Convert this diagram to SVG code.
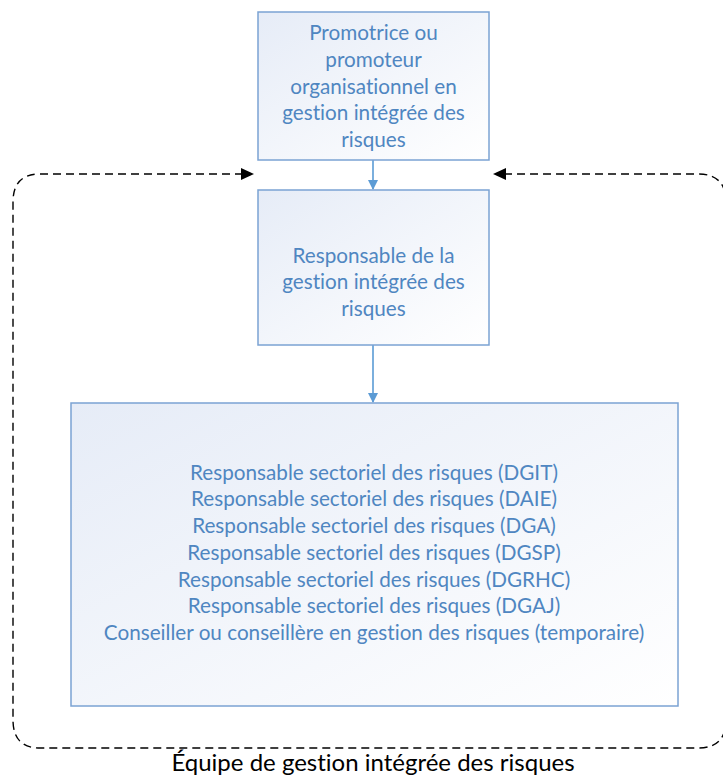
<svg xmlns="http://www.w3.org/2000/svg" width="723" height="777" viewBox="0 0 723 777">
<style>
.box{stroke:#7BA3D3;stroke-width:1.5;fill:url(#g)}
.t{font-family:Lato,"Liberation Sans",sans-serif;font-size:20.7px;fill:#4F86C1;text-anchor:middle;font-variant-ligatures:none}
.c{stroke:#5B9BD5;stroke-width:1.6;fill:none}
.d{stroke:#000;stroke-width:1.4;fill:none;stroke-dasharray:8 5}
</style>
<defs>
<linearGradient id="g" x1="0" y1="0" x2="1" y2="1">
<stop offset="0" stop-color="#E6ECF7"/>
<stop offset="1" stop-color="#FFFFFF"/>
</linearGradient>
<marker id="ab" markerWidth="10" markerHeight="10" refX="9" refY="5" orient="auto" markerUnits="userSpaceOnUse">
<path d="M0,0 L10,5 L0,10 z" fill="#5B9BD5"/>
</marker>
</defs>
<g id="connectors">
<line class="c" x1="373" y1="160" x2="373" y2="189" marker-end="url(#ab)"/>
<line class="c" x1="373" y1="345" x2="373" y2="402" marker-end="url(#ab)"/>
<path class="d" d="M243,174 L40,174 Q13,174 13,202 L13,720 Q13,748 40,748 L698,748 Q726,748 726,720 L726,202 Q726,174 698,174 L504,174"/>
<path d="M254,174 L241,168 L241,180 z" fill="#000"/>
<path d="M493,174 L506,168 L506,180 z" fill="#000"/>
</g>
<g id="n1">
<rect class="box" x="258" y="12" width="231" height="148"/>
<text class="t" x="373.5" y="40">Promotrice ou</text>
<text class="t" x="373.5" y="67">promoteur</text>
<text class="t" x="373.5" y="94">organisationnel en</text>
<text class="t" x="373.5" y="120">gestion intégrée des</text>
<text class="t" x="373.5" y="147">risques</text>
</g>
<g id="n2">
<rect class="box" x="258" y="190" width="231" height="155"/>
<text class="t" x="373.5" y="263">Responsable de la</text>
<text class="t" x="373.5" y="289">gestion intégrée des</text>
<text class="t" x="373.5" y="316">risques</text>
</g>
<g id="n3">
<rect class="box" x="71" y="403" width="607" height="303"/>
<text class="t" x="374" y="480">Responsable sectoriel des risques (DGIT)</text>
<text class="t" x="374" y="506">Responsable sectoriel des risques (DAIE)</text>
<text class="t" x="374" y="533">Responsable sectoriel des risques (DGA)</text>
<text class="t" x="374" y="560">Responsable sectoriel des risques (DGSP)</text>
<text class="t" x="374" y="587">Responsable sectoriel des risques (DGRHC)</text>
<text class="t" x="374" y="613">Responsable sectoriel des risques (DGAJ)</text>
<text class="t" x="374" y="640">Conseiller ou conseillère en gestion des risques (temporaire)</text>
</g>
<g id="label">
<text x="373" y="771" style="font-family:Lato,'Liberation Sans',sans-serif;font-size:24px;fill:#000;text-anchor:middle;font-variant-ligatures:none">Équipe de gestion intégrée des risques</text>
</g>
</svg>
